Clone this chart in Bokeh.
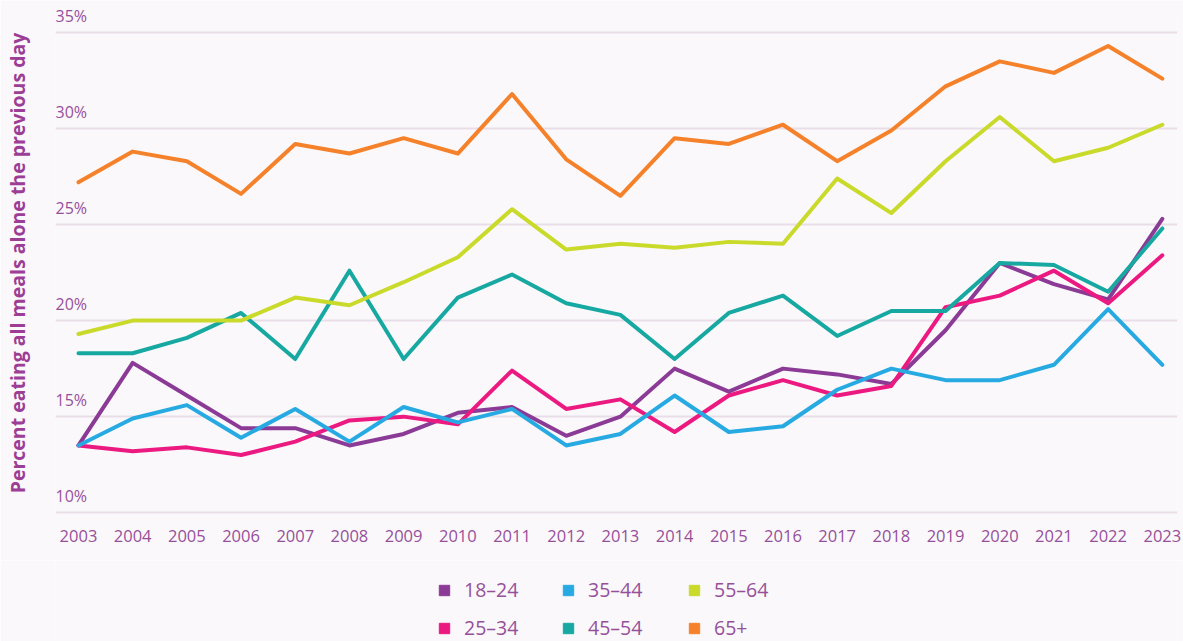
from bokeh.plotting import figure
from bokeh.layouts import column
from bokeh.models import FixedTicker, Legend, LegendItem, Range1d, ColumnDataSource
from bokeh.core.properties import value
from bokeh.embed import file_html
from bokeh.resources import INLINE

years = list(range(2003, 2024))
age_18_24 = [13.5, 17.8, 16.1, 14.4, 14.4, 13.5, 14.1, 15.2, 15.5, 14.0, 15.0, 17.5, 16.3, 17.5, 17.2, 16.7, 19.5, 23.0, 21.9, 21.1, 25.3]
age_25_34 = [13.5, 13.2, 13.4, 13.0, 13.7, 14.8, 15.0, 14.6, 17.4, 15.4, 15.9, 14.2, 16.1, 16.9, 16.1, 16.6, 20.7, 21.3, 22.6, 20.9, 23.4]
age_35_44 = [13.5, 14.9, 15.6, 13.9, 15.4, 13.7, 15.5, 14.7, 15.4, 13.5, 14.1, 16.1, 14.2, 14.5, 16.4, 17.5, 16.9, 16.9, 17.7, 20.6, 17.7]
age_45_54 = [18.3, 18.3, 19.1, 20.4, 18.0, 22.6, 18.0, 21.2, 22.4, 20.9, 20.3, 18.0, 20.4, 21.3, 19.2, 20.5, 20.5, 23.0, 22.9, 21.5, 24.8]
age_55_64 = [19.3, 20.0, 20.0, 20.0, 21.2, 20.8, 22.0, 23.3, 25.8, 23.7, 24.0, 23.8, 24.1, 24.0, 27.4, 25.6, 28.3, 30.6, 28.3, 29.0, 30.2]
age_65_plus = [27.2, 28.8, 28.3, 26.6, 29.2, 28.7, 29.5, 28.7, 31.8, 28.4, 26.5, 29.5, 29.2, 30.2, 28.3, 29.9, 32.2, 33.5, 32.9, 34.3, 32.6]

series_names = ["18–24", "25–34", "35–44", "45–54", "55–64", "65+"]
series_values = [age_18_24, age_25_34, age_35_44, age_45_54, age_55_64, age_65_plus]
series_colors = ["#8B3A96", "#EC1A80", "#27AAE1", "#17A9A1", "#C9DA2B", "#F5822A"]

y_ticks = [10, 15, 20, 25, 30, 35]
y_tick_labels = ["10%", "15%", "20%", "25%", "30%", "35%"]
y_title = "Percent eating all meals alone the previous day"

FONT = "Open Sans"
TEXT_COLOR = "#96509A"
BG = "#FAF8FB"

x_start, x_end = 2002.576, 2023.28
p = figure(width=1183, height=560, output_backend="svg", toolbar_location=None,
           x_range=Range1d(x_start, x_end), y_range=Range1d(9.8, 36.2),
           min_border_left=55, min_border_right=6, min_border_top=9, min_border_bottom=44,
           background_fill_color=BG, border_fill_color=BG, outline_line_color=None)

# y axis only carries the title; its tick labels are drawn above the grid lines
p.yaxis.ticker = FixedTicker(ticks=y_ticks)
p.yaxis.major_label_overrides = {t: "" for t in y_ticks}
p.yaxis.axis_line_color = None
p.yaxis.major_tick_line_color = None
p.yaxis.minor_tick_line_color = None
p.yaxis.major_label_standoff = 0
p.yaxis.axis_label = y_title
p.yaxis.axis_label_standoff = 19
p.yaxis.axis_label_text_font = FONT
p.yaxis.axis_label_text_font_size = "19.5px"
p.yaxis.axis_label_text_font_style = "bold"
p.yaxis.axis_label_text_color = "#9C3D96"

p.xgrid.visible = False
p.ygrid.ticker = FixedTicker(ticks=y_ticks)
p.ygrid.grid_line_color = "#E9DDE7"
p.ygrid.grid_line_width = 2

p.xaxis.ticker = FixedTicker(ticks=years)
p.xaxis.axis_line_color = None
p.xaxis.major_tick_line_color = None
p.xaxis.minor_tick_line_color = None
p.xaxis.major_label_standoff = 7
p.xaxis.major_label_text_font = FONT
p.xaxis.major_label_text_font_size = "16.5px"
p.xaxis.major_label_text_color = TEXT_COLOR

lab_src = ColumnDataSource(dict(x=[x_start] * len(y_ticks), y=y_ticks, t=y_tick_labels))
p.text(x="x", y="y", text="t", source=lab_src, text_font=value(FONT), text_font_size="16px",
       text_color=TEXT_COLOR, text_baseline="bottom", text_align="left", y_offset=-6)

for name, vals, col in zip(series_names, series_values, series_colors):
    p.line(years, vals, line_color=col, line_width=4, line_join="round", line_cap="round")

# legend in its own strip below the chart, one legend per column
lf = figure(width=1183, height=81, output_backend="svg", toolbar_location=None,
            x_axis_location=None, y_axis_location=None,
            x_range=Range1d(x_start, x_end), y_range=Range1d(0, 1),
            min_border_left=0, min_border_right=0, min_border_top=0, min_border_bottom=0,
            background_fill_color=BG, border_fill_color=BG, outline_line_color=None)
lf.grid.visible = False
items = []
for name, vals, col in zip(series_names, series_values, series_colors):
    r = lf.scatter(years[:1], vals[:1], marker="square", size=11, fill_color=col, line_color=col,
                   visible=False)
    items.append(LegendItem(label=name, renderers=[r]))

legend_x = [376, 500, 626]
for ci, lx in enumerate(legend_x):
    legend = Legend(items=items[2 * ci:2 * ci + 2], orientation="vertical", location=(lx, 0),
                    glyph_width=26, glyph_height=26, label_standoff=7, label_width=60, spacing=11,
                    label_text_font=FONT, label_text_font_size="19.5px", label_text_color=TEXT_COLOR,
                    border_line_color=None, background_fill_alpha=0, padding=0, margin=0)
    lf.add_layout(legend, "center")

layout = column(p, lf, spacing=0)
open("out.html", "w").write(file_html(layout, INLINE))
